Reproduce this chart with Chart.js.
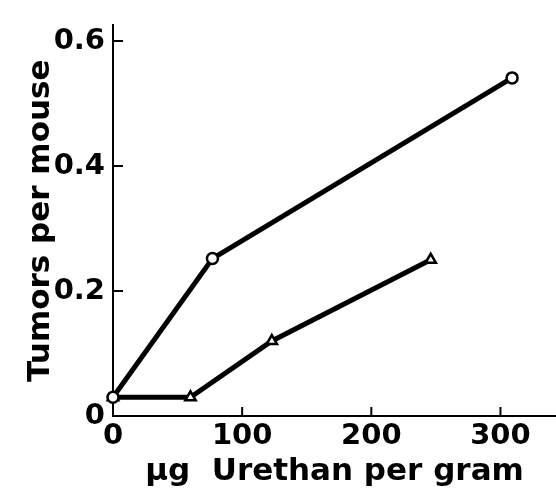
<!DOCTYPE html>
<html>
  <head>
    <title>Tumors per mouse</title>
    <script src="https://cdn.jsdelivr.net/npm/chart.js"></script>
    <style>
      html, body { margin: 0; padding: 0; background: #fff; overflow: hidden; }
      canvas { display: block; }
    </style>
  </head>
  <body>
    <canvas id="tumorChart" width="556" height="491"></canvas>
    <script>
      // values
      var circleDose = [0, 77, 309];
      var circleTumors = [0.03, 0.252, 0.541];
      var triangleDose = [0, 60, 123, 246];
      var triangleTumors = [0.03, 0.03, 0.12, 0.25];
      var xTicks = [0, 100, 200, 300];
      var yTicks = [0, 0.2, 0.4, 0.6];
      var yTickLabels = ["0", "0.2", "0.4", "0.6"];

      function toPoints(xs, ys) {
        return xs.map(function (x, i) {
          return { x: x, y: ys[i] };
        });
      }

      var font = "'DejaVu Sans', sans-serif";

      // tick marks pointing into the plot area
      var inwardTicks = {
        id: "inwardTicks",
        afterDraw: function (chart) {
          var ctx = chart.ctx;
          var xs = chart.scales.x;
          var ys = chart.scales.y;
          ctx.save();
          ctx.strokeStyle = "#000";
          ctx.lineWidth = 2;
          yTicks.forEach(function (v) {
            if (v === 0) return;
            var py = ys.getPixelForValue(v);
            ctx.beginPath();
            ctx.moveTo(xs.left, py);
            ctx.lineTo(xs.left + 10, py);
            ctx.stroke();
          });
          xTicks.forEach(function (v) {
            if (v === 0) return;
            var px = xs.getPixelForValue(v);
            ctx.beginPath();
            ctx.moveTo(px, ys.bottom);
            ctx.lineTo(px, ys.bottom - 9);
            ctx.stroke();
          });
          ctx.restore();
        },
      };

      var ctx = document.getElementById("tumorChart").getContext("2d");
      var chart = new Chart(ctx, {
        type: "scatter",
        data: {
          datasets: [
            {
              label: "circles",
              data: toPoints(circleDose, circleTumors),
              showLine: true,
              borderColor: "#000",
              borderWidth: 5,
              pointStyle: "circle",
              pointRadius: 5.5,
              pointBorderWidth: 2.5,
              pointBackgroundColor: "#fff",
              pointBorderColor: "#000",
              clip: false,
            },
            {
              label: "triangles",
              data: toPoints(triangleDose, triangleTumors),
              showLine: true,
              borderColor: "#000",
              borderWidth: 5,
              pointStyle: "triangle",
              pointRadius: 6,
              pointBorderWidth: 2.5,
              pointBackgroundColor: "#fff",
              pointBorderColor: "#000",
              clip: false,
            },
          ],
        },
        options: {
          responsive: false,
          animation: false,
          layout: {
            autoPadding: false,
            padding: { left: 22, top: 21, right: 0, bottom: 0 },
          },
          plugins: {
            legend: { display: false },
            tooltip: { enabled: false },
          },
          scales: {
            x: {
              type: "linear",
              min: 0,
              max: 343,
              afterBuildTicks: function (scale) {
                scale.ticks = xTicks.map(function (v) { return { value: v }; });
              },
              afterFit: function (scale) {
                scale.height = 75;
                scale.paddingRight = 0;
              },
              grid: { display: false, drawTicks: false },
              border: { display: true, color: "#000", width: 2 },
              ticks: {
                color: "#000",
                font: { family: font, size: 29, weight: "bold" },
                padding: 3,
                maxRotation: 0,
              },
              title: {
                display: true,
                text: "\u00b5g  Urethan per gram",
                color: "#000",
                font: { family: font, size: 31, weight: "bold" },
                padding: { top: 0, bottom: 0 },
              },
            },
            y: {
              type: "linear",
              min: 0,
              max: 0.625,
              afterBuildTicks: function (scale) {
                scale.ticks = yTicks.map(function (v) { return { value: v }; });
              },
              afterFit: function (scale) {
                scale.width = 91;
              },
              grid: { display: false, drawTicks: false },
              border: { display: true, color: "#000", width: 2 },
              ticks: {
                color: "#000",
                font: { family: font, size: 29, weight: "bold" },
                padding: 8,
                callback: function (value) {
                  var i = yTicks.indexOf(value);
                  return i >= 0 ? yTickLabels[i] : "";
                },
              },
              title: {
                display: true,
                text: "Tumors per mouse",
                color: "#000",
                font: { family: font, size: 31, weight: "bold" },
                padding: { top: 0, bottom: 0 },
              },
            },
          },
        },
        plugins: [inwardTicks],
      });
    </script>
  </body>
</html>
